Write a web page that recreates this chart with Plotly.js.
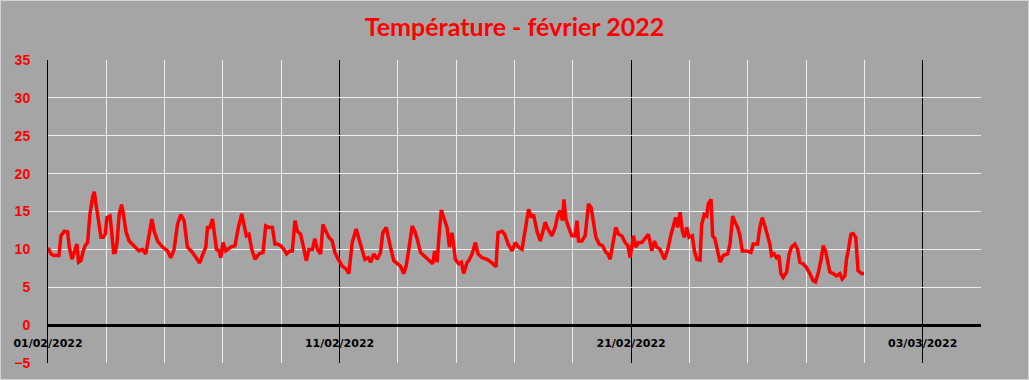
<!DOCTYPE html>
<html>
<head>
<meta charset="utf-8">
<script src="https://cdn.plot.ly/plotly-3.0.1.min.js"></script>
<style>
html,body{margin:0;padding:0;background:#a5a5a5;}
#wrap{position:relative;width:1029px;height:380px;}
#chart{width:1029px;height:380px;}
#frame{position:absolute;left:0;top:0;width:1029px;height:380px;box-sizing:border-box;border:1px solid #d4d4d4;pointer-events:none;}
</style>
</head>
<body>
<div id="wrap"><div id="chart"></div><div id="frame"></div></div>
<script>
// Hours elapsed since 01/02/2022 00:00
const hours = [0,2.5,4.9,9.0,10.7,13.4,16.2,17.5,19.7,21.6,23.8,25.2,27.1,29.0,30.6,32.6,34.5,36.7,38.1,39.5,41.7,43.6,45.5,47.1,48.5,51.0,52.4,54.0,55.3,56.7,58.6,60.6,62.2,64.1,66.8,70.9,75.0,77.8,80.5,83.3,85.5,87.4,90.2,94.3,98.4,101.1,103.8,106.6,109.3,112.0,114.0,114.8,118.9,123.0,124.9,127.1,129.9,131.3,133.2,135.4,136.7,138.7,140.8,142.2,144.1,146.3,150.4,153.9,156.7,159.5,161.3,163.3,165.4,167.7,170.4,173.7,177.0,179.2,181.9,184.7,186.8,188.8,191.5,194.2,196.4,198.9,201.1,203.3,205.2,207.9,210.7,212.6,214.8,217.6,219.7,221.7,224.4,226.3,228.5,231.2,234.0,236.1,238.9,242.2,245.5,247.6,250.4,253.7,255.9,258.7,260.8,263.6,265.5,268.2,271.0,273.7,275.6,278.4,280.0,281.9,284.6,287.4,290.1,292.8,294.8,297.0,299.8,301.9,303.9,306.6,309.3,312.1,314.8,316.7,318.3,320.3,322.4,323.8,325.7,328.5,330.4,332.6,335.3,338.0,340.3,342.2,345.0,346.3,349.1,351.8,354.0,357.3,361.4,364.9,368.8,370.4,373.7,375.9,378.7,382.0,384.7,387.4,390.2,392.9,395.6,397.8,399.7,402.5,405.2,407.1,409.3,411.5,414.8,417.5,419.7,421.6,423.5,424.7,426.3,428.5,431.2,434.0,435.4,436.7,439.5,442.2,444.9,447.1,449.0,451.0,453.7,456.4,459.2,460.9,462.7,465.4,467.4,469.6,472.3,475.1,477.3,479.2,481.9,483.9,486.0,488.8,491.5,494.2,497.0,499.2,501.1,503.8,507.4,510.2,512.9,514.8,516.7,518.4,520.3,522.2,523.8,525.8,527.7,530.4,532.1,534.0,536.7,538.1,540.2,542.2,543.5,545.8,547.1,549.0,551.7,553.2,555.9,559.5,561.4,563.6,565.5,567.7,569.6,571.5,575.1,578.6,580.5,584.1,586.0,587.9,590.1,592.3,594.2,595.6,597.8,599.7,601.6,603.3,605.2,608.0,610.1,612.1,614.8,617.0,618.9,621.6,624.4,627.1,629.8,631.8,633.9,636.2,638.1,640.0,641.7,643.6,646.3,649.1,651.8,653.7,655.9,657.3,659.2,660.9,662.7,664.9,666.8,669.6,671.7];
// Temperature (°C)
const temps = [10.2,9.4,9.2,9.2,11.8,12.4,12.3,10.3,8.7,9.8,10.7,8.3,8.5,9.8,10.5,10.9,14.6,16.9,17.6,16.0,13.8,11.6,11.6,12.0,14.2,14.4,12.4,9.6,9.6,10.7,14.6,15.9,14.6,12.4,11.1,10.5,9.8,10.0,9.4,12.0,14.0,12.4,11.1,10.3,9.8,8.9,10.0,13.3,14.6,13.8,10.7,10.3,9.6,8.5,8.2,9.2,10.3,12.9,12.9,14.0,12.0,10.0,9.8,8.9,10.9,9.8,10.3,10.5,12.9,14.7,13.3,11.8,12.0,10.0,8.7,9.4,9.6,13.1,12.9,12.9,10.7,10.7,10.5,10.0,9.4,9.8,9.8,13.8,12.4,12.0,10.0,8.5,10.0,10.0,11.4,10.0,9.4,13.3,12.5,11.6,11.1,9.6,8.7,7.8,7.4,6.8,10.9,12.7,11.4,9.6,8.7,8.9,8.3,9.4,8.7,9.6,12.2,12.9,11.4,10.3,8.5,8.1,7.8,6.8,7.8,10.0,13.1,12.4,11.4,9.6,9.2,8.7,8.3,8.1,9.8,8.3,12.9,15.2,14.2,12.9,10.3,12.2,8.7,8.1,8.3,6.8,8.3,8.5,9.4,10.9,9.4,8.9,8.7,8.3,7.7,12.2,12.4,12.0,10.7,9.8,10.9,10.3,10.0,12.9,15.3,14.2,14.6,12.4,11.1,12.2,13.6,12.7,11.8,12.9,14.6,15.1,13.8,16.6,14.0,12.9,11.8,11.8,13.8,11.1,11.1,11.8,16.0,15.5,13.8,11.6,10.7,10.5,9.6,9.4,8.7,11.1,12.9,12.0,11.8,10.9,10.5,8.9,11.8,10.3,10.9,10.9,11.4,12.0,9.8,11.1,10.3,10.0,8.7,10.0,12.0,13.3,14.2,12.9,14.9,12.4,11.6,12.9,11.6,11.8,9.8,8.7,8.6,13.3,14.6,14.4,16.0,16.6,11.8,11.4,9.4,8.3,9.2,9.4,10.7,14.4,13.6,12.9,11.8,9.8,9.8,9.6,10.7,10.7,12.9,14.2,13.1,12.0,10.7,9.2,9.4,8.9,9.2,6.8,6.3,7.0,9.4,10.3,10.7,10.0,8.3,8.1,7.6,6.8,5.9,5.7,6.8,8.5,10.5,9.8,8.3,7.0,6.8,6.5,6.8,6.1,6.5,8.7,10.3,12.0,12.1,11.6,7.2,6.8,6.8];

const startDate = '2022-02-01';
const endDate = '2022-03-05';
const titleText = 'Température - février 2022';
const yMin = -5, yMax = 35, yStep = 5;
const DAY = 86400000;

const t0 = Date.UTC(2022, 1, 1);
const xDates = hours.map(h => new Date(t0 + h * 3600000).toISOString().slice(0, 19).replace('T', ' '));

const trace = {
  x: xDates, y: temps, type: 'scatter', mode: 'lines',
  line: {color: '#ff0000', width: 3.5},
  hoverinfo: 'skip'
};

const layout = {
  width: 1029, height: 380,
  paper_bgcolor: '#a5a5a5', plot_bgcolor: '#a5a5a5',
  margin: {l: 48, r: 48, t: 60, b: 17},
  showlegend: false,
  title: {
    text: titleText,
    font: {family: 'Lato, "Open Sans", sans-serif', size: 25, color: '#ff0000', weight: 'bold'},
    x: 0.5, xanchor: 'center', y: 1 - 27/380, yanchor: 'middle', yref: 'container'
  },
  xaxis: {
    type: 'date',
    range: [startDate, endDate],
    tick0: startDate, dtick: 10 * DAY,
    tickformat: '%d/%m/%Y',
    showgrid: true, gridcolor: '#000000', gridwidth: 1,
    minor: {dtick: 2 * DAY, tick0: startDate, showgrid: true, gridcolor: '#eeeeee', gridwidth: 1},
    anchor: 'free', position: (0 - yMin) / (yMax - yMin),
    showline: true, linecolor: '#000000', linewidth: 3,
    ticks: '', ticklabelstandoff: 7,
    tickfont: {family: '"DejaVu Sans", sans-serif', size: 11, color: '#000000', weight: 'bold'},
    zeroline: false, fixedrange: true
  },
  yaxis: {
    range: [yMin, yMax], dtick: yStep, tick0: 0,
    showgrid: true, gridcolor: '#eeeeee', gridwidth: 1,
    zeroline: false,
    showline: true, linecolor: '#000000', linewidth: 1,
    ticks: '', ticklabelstandoff: 14,
    tickfont: {family: '"Liberation Sans", Arial, sans-serif', size: 14, color: '#ff0000', weight: 'bold'},
    fixedrange: true
  }
};

Plotly.newPlot('chart', [trace], layout, {displayModeBar: false, staticPlot: true});
</script>
</body>
</html>
